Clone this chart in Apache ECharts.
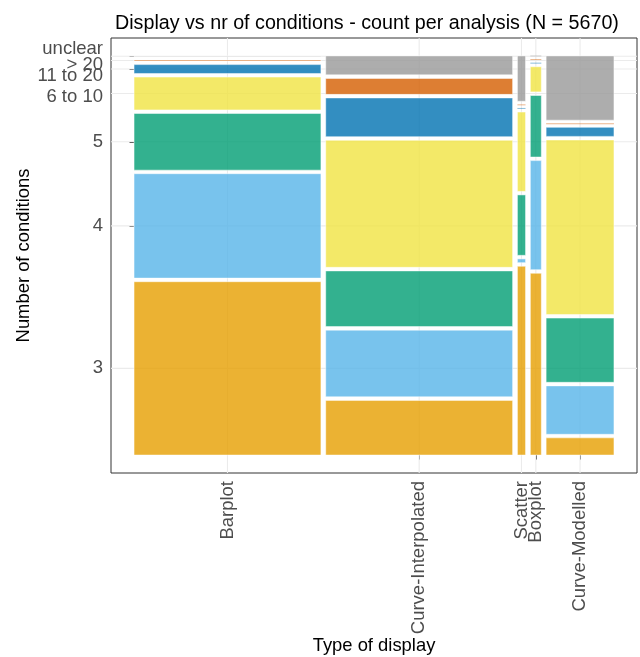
<!DOCTYPE html>
<html><head><meta charset="utf-8">
<script src="https://cdn.jsdelivr.net/npm/echarts@6/dist/echarts.min.js"></script>
<style>html,body{margin:0;padding:0;background:#fff}#c{width:640px;height:657px}</style>
</head><body><div id="c"></div>
<script>
// ---- data ----
const displays = ['Barplot', 'Curve-Interpolated', 'Scatter', 'Boxplot', 'Curve-Modelled'];
const conditions = ['3', '4', '5', '6 to 10', '11 to 20', '> 20', 'unclear'];
const countsBarplot            = [1056, 636, 345, 200, 54, 6, 3];
const countsCurveInterpolated  = [333, 406, 339, 774, 236, 97, 115];
const countsScatter            = [50, 1, 16, 21, 0, 0, 12];
const countsBoxplot            = [65, 39, 22, 9, 0, 0, 0];
const countsCurveModelled      = [38, 107, 142, 386, 20, 0, 142];
const titleText = 'Display vs nr of conditions - count per analysis (N = 5670)';

// ---- styles ----
const colors = ['#E69F00', '#56B4E9', '#009E73', '#F0E442', '#0072B2', '#D55E00', '#999999'];
const gapX = 0.01, gapY = 0.009;
const xMin = -0.048, xMax = 1.048, yMin = -0.045, yMax = 1.045;
const labelFont = 18.5;
const labelNudge = { 3: 3, 4: 7, 5: 4, 6: -7 }; // px shift of y labels (positive = down)

// ---- mosaic layout (ggmosaic-like) ----
const columns = [countsBarplot, countsCurveInterpolated, countsScatter, countsBoxplot, countsCurveModelled];
const N = columns.reduce((s, c) => s + c.reduce((a, b) => a + b, 0), 0);
const nCol = columns.length, nCat = conditions.length;
const rects = [];
const xCenters = [];
let yCentersFirst = [];
let x = 0;
columns.forEach((col, i) => {
  const tot = col.reduce((a, b) => a + b, 0);
  const w = tot / N * (1 - (nCol - 1) * gapX);
  let y = 0;
  col.forEach((v, j) => {
    const h = v / tot * (1 - (nCat - 1) * gapY);
    rects.push([x, x + w, y, y + h, j]);
    if (i === 0) yCentersFirst.push(y + h / 2);
    y += h + gapY;
  });
  xCenters.push(x + w / 2);
  x += w + gapX;
});

const grids = [];
xCenters.forEach(v => grids.push([v, 0, 0]));
yCentersFirst.forEach(v => grids.push([0, v, 1]));
const yLabelData = yCentersFirst.map((v, j) => [xMin, v, j]);

function nearest(arr, v) {
  let bi = 0, bd = Infinity;
  arr.forEach((a, i) => { const d = Math.abs(a - v); if (d < bd) { bd = d; bi = i; } });
  return bi;
}

const chart = echarts.init(document.getElementById('c'), null, { renderer: 'canvas' });
chart.setOption({
  animation: false,
  backgroundColor: '#ffffff',
  textStyle: { fontFamily: 'Liberation Sans' },
  title: {
    text: titleText, left: 110, top: 9,
    textStyle: { fontSize: 19.7, fontWeight: 'normal', color: '#000', fontFamily: 'Liberation Sans' }
  },
  grid: { left: 111, right: 3, top: 38, bottom: 184, outerBoundsMode: 'none', containLabel: false,
    show: true, borderColor: '#333333', borderWidth: 1, backgroundColor: '#fff' },
  xAxis: {
    type: 'value', min: xMin, max: xMax,
    name: 'Type of display', nameLocation: 'middle', nameGap: 164, nameMoveOverlap: false,
    nameTextStyle: { fontSize: 18.4, color: '#000', fontFamily: 'Liberation Sans' },
    axisLine: { show: false },
    splitLine: { show: false },
    axisTick: { show: true, customValues: xCenters, length: 4.5, lineStyle: { color: '#333333', width: 1 } },
    axisLabel: {
      customValues: xCenters, rotate: 90, margin: 8, fontSize: labelFont, color: '#4D4D4D',
      fontFamily: 'Liberation Sans', hideOverlap: false,
      formatter: v => displays[nearest(xCenters, v)]
    }
  },
  yAxis: {
    type: 'value', min: yMin, max: yMax,
    name: 'Number of conditions', nameLocation: 'middle', nameGap: 78, nameRotate: 90, nameMoveOverlap: false,
    nameTextStyle: { fontSize: 18.4, color: '#000', fontFamily: 'Liberation Sans' },
    axisLine: { show: false },
    splitLine: { show: false },
    axisTick: { show: true, customValues: yCentersFirst, length: 4.5, lineStyle: { color: '#333333', width: 1 } },
    axisLabel: { show: false }
  },
  series: [
    {
      type: 'custom', silent: true, z: 1,
      data: grids,
      encode: { x: 0, y: 1 },
      renderItem: (params, api) => {
        const vert = api.value(2) === 0;
        let p0, p1;
        if (vert) { p0 = api.coord([api.value(0), yMin]); p1 = api.coord([api.value(0), yMax]); }
        else { p0 = api.coord([xMin, api.value(1)]); p1 = api.coord([xMax, api.value(1)]); }
        return { type: 'line', shape: { x1: p0[0], y1: p0[1], x2: p1[0], y2: p1[1] },
          style: { stroke: '#EBEBEB', lineWidth: 1.1 } };
      }
    },
    {
      type: 'custom', silent: true, z: 2,
      data: rects,
      encode: { x: [0, 1], y: [2, 3] },
      renderItem: (params, api) => {
        const x0 = api.value(0), x1 = api.value(1), y0 = api.value(2), y1 = api.value(3), j = api.value(4);
        const p0 = api.coord([x0, y0]), p1 = api.coord([x1, y1]);
        if (y1 - y0 <= 0) {
          return { type: 'line', shape: { x1: p0[0], y1: p0[1], x2: p1[0], y2: p0[1] },
            style: { stroke: colors[j], opacity: 0.45, lineWidth: 1 } };
        }
        return { type: 'rect',
          shape: { x: p0[0], y: p1[1], width: p1[0] - p0[0], height: p0[1] - p1[1] },
          style: { fill: colors[j], opacity: 0.8, stroke: '#ffffff', lineWidth: 0.6 } };
      }
    },
    {
      type: 'custom', silent: true, z: 3, clip: false,
      data: yLabelData,
      encode: { x: 0, y: 1 },
      renderItem: (params, api) => {
        const j = api.value(2);
        const p = api.coord([api.value(0), api.value(1)]);
        return { type: 'text', x: p[0] - 8, y: p[1] + (labelNudge[j] || 0),
          style: { text: conditions[j], fill: '#4D4D4D', fontSize: labelFont, fontFamily: 'Liberation Sans',
            align: 'right', verticalAlign: 'middle' } };
      }
    }
  ]
});
</script></body></html>
